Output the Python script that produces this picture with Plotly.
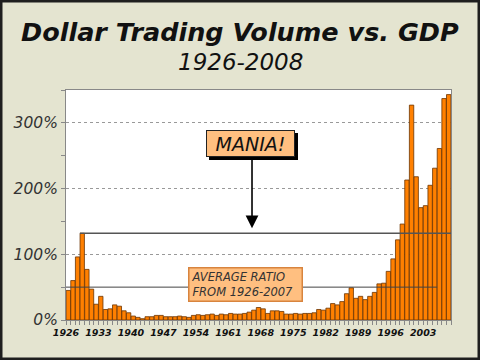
import plotly.graph_objects as go

# ---- data ----
years = list(range(1926, 2009))
ratio_pct = [
    45, 60, 96, 132, 77, 47, 24, 36, 16, 17,      # 1926-1935
    23, 21, 14, 11, 6, 4, 2, 5, 5, 7,             # 1936-1945
    7, 5, 5, 5, 6, 5, 4, 7, 8, 7,                 # 1946-1955
    8, 9, 7, 9, 8, 10, 9, 9, 10, 12,              # 1956-1965
    15, 19, 17, 10, 14, 14, 13, 9, 9, 10,         # 1966-1975
    9, 10, 10, 11, 16, 15, 18, 25, 23, 28,        # 1976-1985
    40, 49, 33, 36, 31, 36, 42, 55, 56, 74,       # 1986-1995
    93, 122, 146, 213, 327, 218, 171, 174, 205, 231,  # 1996-2005
    261, 337, 343,                                # 2006-2008
]
tick_years = list(range(1926, 2004, 7))
y_ticks = [0, 100, 200, 300]
y_tick_labels = ["0%", "100%", "200%", "300%"]
mania_level = 132
mania_start_year = 1929
average_ratio = 50
average_end_year = 2006

title = "Dollar Trading Volume vs. GDP"
subtitle = "1926-2008"
mania_text = "MANIA!"
average_text = "AVERAGE RATIO<br>FROM 1926-2007"

FONT = "DejaVu Sans"
W, H = 480, 360
L, R, T, B = 66, 29, 90, 40
pw, ph = W - L - R, H - T - B


def px_x(px):  # canvas pixel -> paper x
    return (px - L) / pw


def px_y(py):  # canvas pixel -> paper y
    return (H - B - py) / ph


fig = go.Figure()
fig.add_trace(go.Bar(
    x=years, y=ratio_pct,
    marker=dict(color="#FF8000", line=dict(color="#6B3300", width=0.8)),
    hoverinfo="x+y",
))

shapes = [
    # outer frame
    dict(type="rect", xref="paper", yref="paper",
         x0=px_x(0), x1=px_x(W), y0=px_y(H), y1=px_y(0),
         line=dict(color="#1E1E1E", width=5), layer="above"),
    # mania line
    dict(type="line", xref="x", yref="y",
         x0=mania_start_year - 0.5, x1=years[-1] + 0.5,
         y0=mania_level, y1=mania_level,
         line=dict(color="#555555", width=1.6), layer="above"),
    # average line
    dict(type="line", xref="x", yref="y",
         x0=years[0] - 0.5, x1=average_end_year - 0.5,
         y0=average_ratio, y1=average_ratio,
         line=dict(color="#444444", width=1), layer="above"),
    # MANIA box drop shadow
    dict(type="rect", xref="paper", yref="paper",
         x0=px_x(209), x1=px_x(298), y0=px_y(160), y1=px_y(133),
         fillcolor="#000000", line=dict(width=0), layer="above"),
]

mania_x = 1965.6
C = dict(xanchor="center", yanchor="middle", showarrow=False,
         xref="paper", yref="paper")
annotations = [
    dict(text=f"<b><i>{title}</i></b>", x=px_x(240), y=px_y(32),
         font=dict(family=FONT, size=25.5, color="#111111"), **C),
    dict(text=f"<i>{subtitle}</i>", x=px_x(240), y=px_y(62),
         font=dict(family=FONT, size=23, color="#111111"), **C),
    # arrow
    dict(text="", x=mania_x, y=mania_level, xref="x", yref="y",
         ax=mania_x, ay=248, axref="x", ayref="y",
         showarrow=True, arrowhead=2, arrowsize=1.6, arrowwidth=1.6,
         arrowcolor="#000000", standoff=5),
    # mania box
    dict(text=f"<i>{mania_text}</i>", x=px_x(250.5), y=px_y(143.5),
         font=dict(family=FONT, size=19, color="#111111"),
         bgcolor="#FFBF80", bordercolor="#222222", borderwidth=1,
         borderpad=2, width=83, height=21, **C),
    # average box
    dict(text=f"<i>{average_text}</i>", x=px_x(245.3), y=px_y(284),
         align="left",
         font=dict(family=FONT, size=11.5, color="#333333"),
         bgcolor="#FFBF80", bordercolor="#D8843E", borderwidth=1.5,
         borderpad=2, width=108, height=28, **C),
]

fig.update_layout(
    width=W, height=H,
    margin=dict(l=L, r=R, t=T, b=B),
    paper_bgcolor="#E4E4D0",
    plot_bgcolor="#FFFFFF",
    bargap=0.06,
    showlegend=False,
    shapes=shapes,
    annotations=annotations,
    xaxis=dict(
        range=[years[0] - 0.5, years[-1] + 0.5],
        tickmode="array",
        tickvals=[y - 0.5 for y in tick_years],
        ticktext=[str(y) for y in tick_years],
        ticks="outside", ticklen=4, tickcolor="#888888",
        minor=dict(tickmode="linear", tick0=years[0] - 0.5, dtick=1,
                   ticks="outside", ticklen=4, tickcolor="#888888"),
        tickfont=dict(family=FONT, size=9.5, color="#111111",
                      weight="bold", style="italic"),
        showline=True, linecolor="#888888", linewidth=1, mirror=True,
        showgrid=False, zeroline=False, fixedrange=True,
    ),
    yaxis=dict(
        range=[0, 350],
        tickmode="array", tickvals=y_ticks, ticktext=y_tick_labels,
        ticks="outside", ticklen=4, tickcolor="#888888",
        minor=dict(tickmode="linear", tick0=0, dtick=50,
                   ticks="outside", ticklen=4, tickcolor="#888888",
                   showgrid=False),
        tickfont=dict(family=FONT, size=15.5, color="#333333", style="italic"),
        showline=True, linecolor="#888888", linewidth=1, mirror=True,
        showgrid=True, gridcolor="#999999", griddash="dot", gridwidth=1,
        zeroline=False, fixedrange=True,
    ),
)

fig.write_html(
    "out.html",
    config={"displayModeBar": False},
    post_script="document.body.style.margin='0';document.body.style.padding='0';",
)
